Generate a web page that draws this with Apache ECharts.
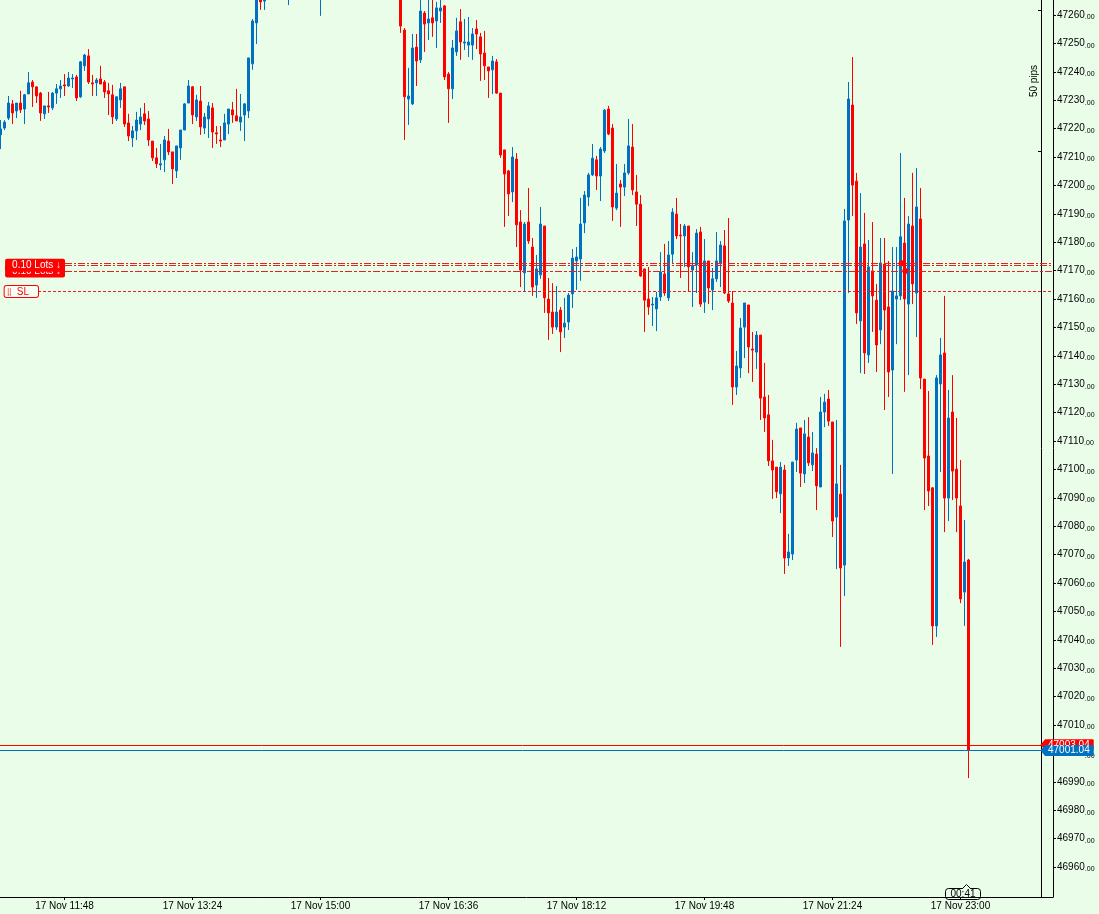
<!DOCTYPE html>
<html>
<head>
<meta charset="utf-8">
<script src="https://cdn.jsdelivr.net/npm/echarts@6/dist/echarts.min.js"></script>
<style>
  html, body { margin: 0; padding: 0; background: #e9fde9; }
  #chart { width: 1099px; height: 914px; }
</style>
</head>
<body>
<div id="chart"></div>
<script>
  // 3-minute candles, index 0 = 17 Nov 11:00
  const opens = [
    47217.8, 47220.2, 47223.7, 47228.7, 47226.2, 47229.0, 47226.9, 47232.2, 47236.4, 47234.7,
    47232.5, 47225.2, 47228.0, 47227.3, 47232.5, 47234.0, 47235.4, 47235.0, 47237.5, 47238.2,
    47231.2, 47242.1, 47245.6, 47236.1, 47236.1, 47237.5, 47236.4, 47233.3, 47231.9, 47223.4,
    47230.1, 47234.7, 47222.0, 47216.7, 47219.2, 47221.6, 47225.2, 47223.4, 47215.6, 47209.7,
    47207.2, 47209.0, 47215.6, 47211.8, 47205.1, 47213.2, 47219.5, 47229.0, 47234.7, 47224.1,
    47229.7, 47220.2, 47223.4, 47227.3, 47218.5, 47216.0, 47216.0, 47221.6, 47226.6, 47224.5,
    47222.3, 47224.8, 47226.2, 47242.8, 47257.2, 47270.0, 47264.9, 47266.0, 47273.0, 47279.0,
    47275.0, 47271.0, 47268.0, 47274.0, 47280.0, 47286.0, 47283.0, 47289.0, 47284.0, 47278.0,
    47272.0, 47277.0, 47283.0, 47288.0, 47294.0, 47290.0, 47296.0, 47301.0, 47297.0, 47292.0,
    47296.0, 47290.0, 47285.0, 47288.0, 47283.0, 47279.0, 47282.0, 47277.0, 47274.0, 47276.0,
    47270.0, 47254.7, 47230.4, 47228.7, 47248.7, 47244.2, 47260.7, 47257.2, 47259.0, 47257.9,
    47261.4, 47263.2, 47239.2, 47234.0, 47247.0, 47257.6, 47250.1, 47249.4, 47249.4, 47255.1,
    47252.3, 47246.6, 47241.7, 47240.7, 47243.5, 47232.5, 47212.5, 47205.1, 47197.7, 47209.3,
    47187.1, 47169.2, 47187.1, 47178.3, 47164.9, 47168.5, 47185.7, 47160.0, 47155.4, 47150.1,
    47156.1, 47150.1, 47151.9, 47161.8, 47173.4, 47174.1, 47186.8, 47195.9, 47203.7, 47209.0,
    47203.3, 47212.1, 47226.9, 47220.2, 47192.0, 47200.5, 47199.4, 47204.4, 47213.5, 47197.7,
    47193.4, 47170.6, 47160.0, 47157.9, 47156.5, 47160.7, 47168.8, 47160.4, 47175.8, 47189.9,
    47182.5, 47182.2, 47185.7, 47170.2, 47172.0, 47183.6, 47158.9, 47173.4, 47163.2, 47167.1,
    47172.7, 47178.7, 47161.8, 47158.6, 47129.0, 47135.7, 47150.1, 47157.9, 47142.4, 47141.3,
    47147.3, 47125.5, 47119.2, 47103.0, 47100.8, 47091.4, 47099.8, 47068.8, 47070.2, 47103.3,
    47114.6, 47098.4, 47111.4, 47101.6, 47105.4, 47093.8, 47120.2, 47124.8, 47116.7, 47083.2,
    47091.3, 47066.3, 47187.8, 47228.3, 47201.5, 47152.3, 47179.4, 47140.3, 47169.9, 47159.6,
    47149.1, 47172.3, 47157.2, 47135.0, 47160.0, 47161.1, 47179.7, 47158.2, 47185.7, 47162.1,
    47188.2, 47131.8, 47104.7, 47093.5, 47044.9, 47130.1, 47141.0, 47089.9, 47120.2, 47100.1,
    47087.1, 47056.8, 47068.1
  ]
  const closes = [
    47219.9, 47222.3, 47229.0, 47225.5, 47229.0, 47226.6, 47231.9, 47236.1, 47234.7, 47231.5,
    47225.5, 47228.0, 47227.6, 47232.5, 47234.0, 47235.0, 47235.0, 47237.8, 47237.8, 47230.8,
    47243.5, 47245.9, 47236.4, 47235.7, 47237.1, 47235.7, 47232.9, 47232.2, 47224.1, 47231.2,
    47234.0, 47221.6, 47217.4, 47219.2, 47223.0, 47224.1, 47222.7, 47216.0, 47209.7, 47207.6,
    47207.6, 47216.0, 47211.8, 47205.8, 47213.9, 47219.5, 47228.7, 47235.0, 47224.8, 47230.1,
    47220.6, 47224.1, 47228.0, 47218.8, 47218.1, 47215.6, 47222.0, 47226.9, 47224.8, 47222.7,
    47224.1, 47228.7, 47244.9, 47257.9, 47268.0, 47264.6, 47268.0, 47273.0, 47279.0, 47275.0,
    47271.0, 47268.0, 47274.0, 47280.0, 47286.0, 47283.0, 47289.0, 47284.0, 47278.0, 47272.0,
    47277.0, 47283.0, 47288.0, 47294.0, 47290.0, 47296.0, 47301.0, 47297.0, 47292.0, 47296.0,
    47290.0, 47285.0, 47288.0, 47283.0, 47279.0, 47282.0, 47277.0, 47274.0, 47276.0, 47270.0,
    47256.1, 47231.2, 47231.5, 47248.4, 47243.8, 47261.4, 47256.8, 47258.6, 47257.2, 47262.5,
    47262.5, 47238.2, 47234.0, 47248.4, 47254.4, 47250.5, 47250.5, 47250.5, 47253.3, 47253.3,
    47246.3, 47242.1, 47240.3, 47243.8, 47232.5, 47210.7, 47204.0, 47197.0, 47210.0, 47186.1,
    47170.2, 47186.4, 47180.4, 47164.2, 47170.6, 47186.4, 47160.4, 47155.1, 47150.1, 47155.4,
    47148.4, 47151.5, 47161.4, 47174.4, 47174.8, 47186.4, 47196.6, 47203.7, 47209.6, 47203.3,
    47212.8, 47226.5, 47218.1, 47192.4, 47197.3, 47199.4, 47204.4, 47213.9, 47198.4, 47193.4,
    47168.1, 47159.6, 47157.2, 47158.2, 47160.4, 47169.5, 47162.1, 47175.5, 47190.6, 47182.2,
    47182.2, 47185.7, 47171.3, 47171.6, 47183.2, 47158.2, 47173.4, 47163.9, 47167.1, 47173.4,
    47179.0, 47162.1, 47159.3, 47129.0, 47136.4, 47149.8, 47158.6, 47143.1, 47142.0, 47147.3,
    47125.1, 47118.1, 47103.0, 47099.8, 47092.1, 47100.8, 47068.8, 47070.9, 47102.6, 47114.2,
    47098.7, 47112.5, 47102.3, 47105.8, 47094.2, 47120.2, 47123.7, 47117.0, 47081.8, 47094.9,
    47065.3, 47187.5, 47230.4, 47200.1, 47155.1, 47178.3, 47141.0, 47171.3, 47161.1, 47143.8,
    47172.7, 47156.1, 47134.3, 47162.8, 47161.1, 47181.9, 47160.0, 47186.4, 47165.3, 47192.4,
    47132.2, 47104.0, 47092.4, 47044.9, 47132.2, 47140.3, 47089.9, 47118.1, 47099.4, 47089.9,
    47054.4, 47067.4, 47001.04
  ]
  const lows = [
    47212.8, 47219.5, 47223.0, 47221.6, 47223.7, 47225.5, 47221.6, 47232.2, 47227.6, 47229.0,
    47222.7, 47223.4, 47225.5, 47226.6, 47228.7, 47230.8, 47231.5, 47234.7, 47234.3, 47229.7,
    47230.8, 47240.3, 47235.7, 47231.5, 47231.5, 47235.7, 47230.8, 47224.8, 47221.6, 47222.7,
    47227.3, 47220.6, 47215.6, 47213.5, 47216.0, 47219.5, 47221.3, 47213.9, 47208.6, 47206.1,
    47205.4, 47204.7, 47210.7, 47200.5, 47202.6, 47209.0, 47219.5, 47229.0, 47221.6, 47222.7,
    47217.8, 47218.1, 47216.7, 47213.2, 47214.6, 47213.5, 47216.0, 47218.1, 47222.0, 47222.7,
    47219.2, 47215.6, 47223.7, 47240.7, 47249.8, 47261.8, 47261.8, 47265.5, 47270.0, 47272.0,
    47268.0, 47266.0, 47263.5, 47272.0, 47278.0, 47280.0, 47281.0, 47281.0, 47275.0, 47268.0,
    47259.7, 47275.0, 47281.0, 47286.0, 47287.0, 47289.0, 47293.0, 47294.0, 47290.0, 47290.0,
    47287.0, 47283.0, 47282.0, 47280.0, 47276.0, 47277.0, 47274.0, 47270.0, 47271.0, 47267.0,
    47253.7, 47216.0, 47221.3, 47228.3, 47235.0, 47243.1, 47247.0, 47251.2, 47252.3, 47248.4,
    47257.2, 47237.1, 47222.0, 47230.4, 47245.6, 47244.2, 47247.7, 47245.2, 47244.2, 47248.0,
    47236.8, 47237.1, 47230.8, 47232.2, 47232.2, 47209.7, 47185.4, 47189.2, 47194.1, 47178.3,
    47164.2, 47162.8, 47179.4, 47161.1, 47160.4, 47167.1, 47155.1, 47145.6, 47147.7, 47149.1,
    47141.3, 47146.3, 47149.1, 47156.8, 47163.2, 47166.4, 47183.2, 47192.7, 47203.3, 47198.4,
    47194.5, 47211.4, 47217.7, 47187.5, 47191.3, 47185.4, 47196.3, 47203.7, 47196.6, 47185.7,
    47167.8, 47148.4, 47154.4, 47150.5, 47148.7, 47159.3, 47161.1, 47159.3, 47172.7, 47181.1,
    47167.4, 47171.3, 47162.8, 47157.2, 47162.1, 47157.2, 47155.1, 47158.2, 47156.1, 47166.0,
    47164.2, 47161.8, 47158.6, 47122.7, 47126.2, 47132.2, 47139.2, 47133.9, 47130.8, 47135.4,
    47117.4, 47113.2, 47101.2, 47089.6, 47089.9, 47084.6, 47063.2, 47066.0, 47068.1, 47099.1,
    47093.8, 47095.2, 47101.2, 47099.4, 47085.7, 47093.8, 47114.9, 47115.3, 47076.2, 47064.9,
    47037.5, 47055.4, 47162.1, 47189.2, 47151.2, 47133.9, 47133.6, 47137.5, 47148.4, 47134.3,
    47144.1, 47120.9, 47125.5, 47098.4, 47144.1, 47159.6, 47127.3, 47133.2, 47158.2, 47146.6,
    47128.3, 47085.7, 47087.1, 47038.2, 47041.0, 47099.1, 47077.9, 47081.8, 47089.2, 47077.9,
    47052.9, 47044.9, 46991.3
  ]
  const highs = [
    47223.0, 47223.0, 47231.5, 47230.1, 47229.0, 47233.3, 47232.2, 47239.9, 47237.1, 47234.7,
    47232.9, 47228.0, 47232.9, 47232.9, 47235.7, 47237.1, 47239.2, 47239.9, 47239.2, 47238.9,
    47243.8, 47246.3, 47248.0, 47238.9, 47237.8, 47242.1, 47237.1, 47236.1, 47235.4, 47231.2,
    47236.1, 47234.7, 47225.2, 47220.9, 47225.9, 47227.3, 47229.0, 47226.2, 47215.6, 47213.2,
    47214.6, 47217.4, 47219.9, 47211.8, 47213.9, 47219.5, 47229.0, 47237.1, 47235.0, 47231.9,
    47235.0, 47225.5, 47229.4, 47229.0, 47220.9, 47220.9, 47225.2, 47226.9, 47229.4, 47234.0,
    47232.2, 47229.0, 47244.9, 47258.6, 47272.0, 47275.0, 47272.0, 47276.0, 47282.0, 47283.0,
    47278.0, 47274.0, 47277.0, 47283.0, 47289.0, 47290.0, 47292.0, 47291.0, 47286.0, 47280.0,
    47279.0, 47285.0, 47291.0, 47297.0, 47296.0, 47299.0, 47304.0, 47303.0, 47299.0, 47298.0,
    47297.0, 47292.0, 47290.0, 47289.0, 47285.0, 47284.0, 47283.0, 47279.0, 47278.0, 47278.0,
    47272.0, 47255.4, 47241.4, 47253.3, 47253.3, 47267.0, 47261.4, 47267.5, 47267.0, 47264.6,
    47268.0, 47263.5, 47239.9, 47251.2, 47259.0, 47262.1, 47258.6, 47259.3, 47255.4, 47258.2,
    47253.7, 47254.4, 47241.7, 47245.6, 47244.5, 47232.5, 47212.5, 47205.5, 47213.5, 47211.4,
    47191.3, 47187.1, 47199.1, 47181.5, 47175.5, 47192.4, 47185.7, 47167.4, 47165.6, 47164.6,
    47157.2, 47160.4, 47162.1, 47177.6, 47178.3, 47195.6, 47198.0, 47204.4, 47214.6, 47210.4,
    47213.5, 47226.9, 47228.0, 47221.6, 47207.5, 47201.9, 47207.5, 47223.4, 47221.6, 47203.7,
    47196.6, 47170.6, 47171.3, 47160.7, 47162.5, 47176.5, 47179.4, 47180.4, 47192.0, 47195.6,
    47186.4, 47186.4, 47185.7, 47176.5, 47184.6, 47185.4, 47181.1, 47173.4, 47170.9, 47183.6,
    47180.4, 47184.3, 47188.5, 47162.8, 47141.7, 47153.3, 47158.6, 47157.9, 47148.4, 47148.7,
    47147.3, 47137.5, 47126.2, 47110.4, 47100.8, 47102.6, 47101.6, 47077.3, 47102.6, 47116.4,
    47114.6, 47117.4, 47118.4, 47113.2, 47107.5, 47125.5, 47126.6, 47128.0, 47116.7, 47117.4,
    47101.6, 47191.7, 47236.4, 47245.2, 47204.4, 47197.3, 47190.3, 47180.8, 47187.1, 47165.3,
    47181.5, 47181.5, 47173.4, 47178.3, 47178.3, 47211.4, 47195.6, 47189.2, 47204.4, 47206.1,
    47199.1, 47131.8, 47127.6, 47093.8, 47133.2, 47146.3, 47161.1, 47128.0, 47133.2, 47118.1,
    47103.3, 47082.2, 47068.5
  ]

  const tickIdx = [16, 48, 80, 112, 144, 176, 208, 240]
  const tickLabels = [
    '17 Nov 11:48', '17 Nov 13:24', '17 Nov 15:00', '17 Nov 16:36',
    '17 Nov 18:12', '17 Nov 19:48', '17 Nov 21:24', '17 Nov 23:00'
  ]
  const priceTicks = [
    46960, 46970, 46980, 46990, 47000, 47010, 47020, 47030, 47040, 47050, 47060,
    47070, 47080, 47090, 47100, 47110, 47120, 47130, 47140, 47150, 47160, 47170,
    47180, 47190, 47200, 47210, 47220, 47230, 47240, 47250, 47260
  ]

  // trade levels
  const orderLevels = [47172.6, 47171.9, 47169.9]
  const stopLoss = 47162.6
  const askPrice = 47003.04
  const bidPrice = 47001.04
  const entryMarks = [[225.3, 47172.6], [226.2, 47169.9]]

  const BLUE = '#0070c0'
  const RED = '#ff0000'
  const LEVEL = '#e52222'
  const BG = '#e9fde9'
  const FONT = 'Liberation Sans'

  const candles = opens.map((o, i) => [i, o, closes[i], lows[i], highs[i]])

  function priceLabel(v) {
    const parts = Number(v).toFixed(2).split('.')
    return '{a|' + parts[0] + '}{b|.' + parts[1] + '}'
  }

  const lotsLabel = {
    show: true,
    position: 'start',
    distance: 0,
    formatter: '0.10 Lots \u2193',
    color: '#fff',
    fontFamily: FONT,
    fontSize: 10,
    backgroundColor: RED,
    borderRadius: 2,
    padding: [2, 4, 1, 7],
  }

  function priceTag(color) {
    return {
      show: true,
      position: 'end',
      distance: 0,
      color: '#fff',
      fontFamily: FONT,
      fontSize: 10,
      backgroundColor: color,
      borderRadius: 1,
      padding: [1, 4, 0, 3],
    }
  }

  const chart = echarts.init(document.getElementById('chart'), null, { renderer: 'canvas' })

  chart.setOption({
    backgroundColor: BG,
    animation: false,
    grid: { left: 0, top: 0, right: 46, bottom: 17 },
    xAxis: {
      type: 'value',
      min: -0.125,
      max: 263.125,
      axisLine: { show: true, onZero: false, lineStyle: { color: '#000', width: 1 } },
      axisTick: { show: true, length: 3, customValues: tickIdx, lineStyle: { color: '#000' } },
      axisLabel: {
        customValues: tickIdx,
        formatter: (v) => tickLabels[tickIdx.indexOf(v)] || '',
        color: '#000',
        fontFamily: FONT,
        fontSize: 10,
        margin: 4,
      },
      splitLine: { show: false },
    },
    yAxis: {
      type: 'value',
      position: 'right',
      min: 46949.44,
      max: 47265.28,
      axisLine: { show: true, onZero: false, lineStyle: { color: '#000', width: 1 } },
      axisTick: { show: true, length: 3, customValues: priceTicks, lineStyle: { color: '#000' } },
      axisLabel: {
        customValues: priceTicks,
        formatter: priceLabel,
        margin: 4,
        rich: {
          a: { fontFamily: FONT, fontSize: 10, color: '#000', lineHeight: 12 },
          b: { fontFamily: FONT, fontSize: 7, color: '#000', lineHeight: 12, verticalAlign: 'bottom' },
        },
      },
      splitLine: { show: false },
    },
    series: [
      {
        type: 'candlestick',
        data: candles,
        barWidth: 2,
        clip: true,
        itemStyle: {
          color: BLUE,
          color0: RED,
          borderColor: BLUE,
          borderColor0: RED,
          borderWidth: 1,
        },
        emphasis: { disabled: true },
      },
      {
        type: 'line',
        data: [],
        clip: false,
        silent: true,
        markLine: {
          silent: true,
          symbol: ['none', 'none'],
          animation: false,
          data: [
            [
              { x: 65, yAxis: orderLevels[0], lineStyle: { color: LEVEL, width: 1, type: [7, 2, 2, 2] }, label: { show: false } },
              { x: 1053, yAxis: orderLevels[0] },
            ],
            [
              { x: 65, yAxis: orderLevels[2], lineStyle: { color: LEVEL, width: 1, type: [7, 2, 3, 2] }, label: lotsLabel },
              { x: 1053, yAxis: orderLevels[2] },
            ],
            [
              { x: 65, yAxis: orderLevels[1], lineStyle: { color: LEVEL, width: 1, type: [7, 2, 2, 2] }, label: lotsLabel },
              { x: 1053, yAxis: orderLevels[1] },
            ],
            [
              {
                x: 38, yAxis: stopLoss,
                lineStyle: { color: LEVEL, width: 1, type: [3, 2] },
                label: {
                  show: true,
                  position: 'start',
                  distance: 0,
                  formatter: '{g|\u28ff}{s|SL}',
                  backgroundColor: '#f6fff6',
                  borderColor: RED,
                  borderWidth: 1,
                  borderRadius: 2,
                  padding: [1, 9, 0, 2],
                  rich: {
                    g: { color: RED, fontSize: 7, fontFamily: 'DejaVu Sans', padding: [0, 5, 0, 0] },
                    s: { color: RED, fontSize: 10, fontFamily: FONT },
                  },
                },
              },
              { x: 1053, yAxis: stopLoss },
            ],
            [
              { x: 0, yAxis: askPrice, lineStyle: { color: RED, width: 1, type: 'solid' }, label: Object.assign(priceTag(RED), { formatter: askPrice.toFixed(2) }) },
              { x: 1045, yAxis: askPrice },
            ],
            [
              { x: 0, yAxis: bidPrice, lineStyle: { color: BLUE, width: 1, type: 'solid' }, label: Object.assign(priceTag(BLUE), { formatter: bidPrice.toFixed(2) }) },
              { x: 1045, yAxis: bidPrice },
            ],
          ],
        },
        markPoint: {
          silent: true,
          animation: false,
          label: { show: false },
          data: [
            ...entryMarks.map((c) => ({ coord: c, symbol: 'circle', symbolSize: 6, itemStyle: { color: RED } })),
            { x: 1043, yAxis: askPrice, symbol: 'triangle', symbolRotate: 90, symbolSize: [12, 5], itemStyle: { color: RED } },
            { x: 1043, yAxis: bidPrice, symbol: 'triangle', symbolRotate: 90, symbolSize: [12, 5], itemStyle: { color: BLUE } },
          ],
        },
      },
    ],
    graphic: [
      { type: 'line', silent: true, shape: { x1: 1041.5, y1: 0, x2: 1041.5, y2: 897 }, style: { stroke: '#000', lineWidth: 1 } },
      { type: 'line', silent: true, shape: { x1: 1038, y1: 10.5, x2: 1041.5, y2: 10.5 }, style: { stroke: '#000', lineWidth: 1 } },
      { type: 'line', silent: true, shape: { x1: 1038, y1: 151.5, x2: 1041.5, y2: 151.5 }, style: { stroke: '#000', lineWidth: 1 } },
      {
        type: 'text', silent: true, x: 1034, y: 81, rotation: Math.PI / 2,
        style: { text: '50 pips', fill: '#000', font: '10px "Liberation Sans"', align: 'center', verticalAlign: 'middle' },
      },
      {
        type: 'group', silent: true, z: 50,
        children: [
          { type: 'rect', shape: { x: 945.5, y: 888.5, width: 35, height: 11, r: 3 }, style: { fill: BG, stroke: '#000', lineWidth: 1 } },
          { type: 'polygon', shape: { points: [[962.5, 889], [966.5, 884.5], [970.5, 889]] }, style: { fill: BG } },
          { type: 'polyline', shape: { points: [[962.5, 888.5], [966.5, 884.5], [970.5, 888.5]] }, style: { stroke: '#000', lineWidth: 1 } },
          { type: 'text', x: 963, y: 894.5, style: { text: '00:41', fill: '#000', font: '10px "Liberation Sans"', align: 'center', verticalAlign: 'middle' } },
        ],
      },
    ],
  })
</script>
</body>
</html>
